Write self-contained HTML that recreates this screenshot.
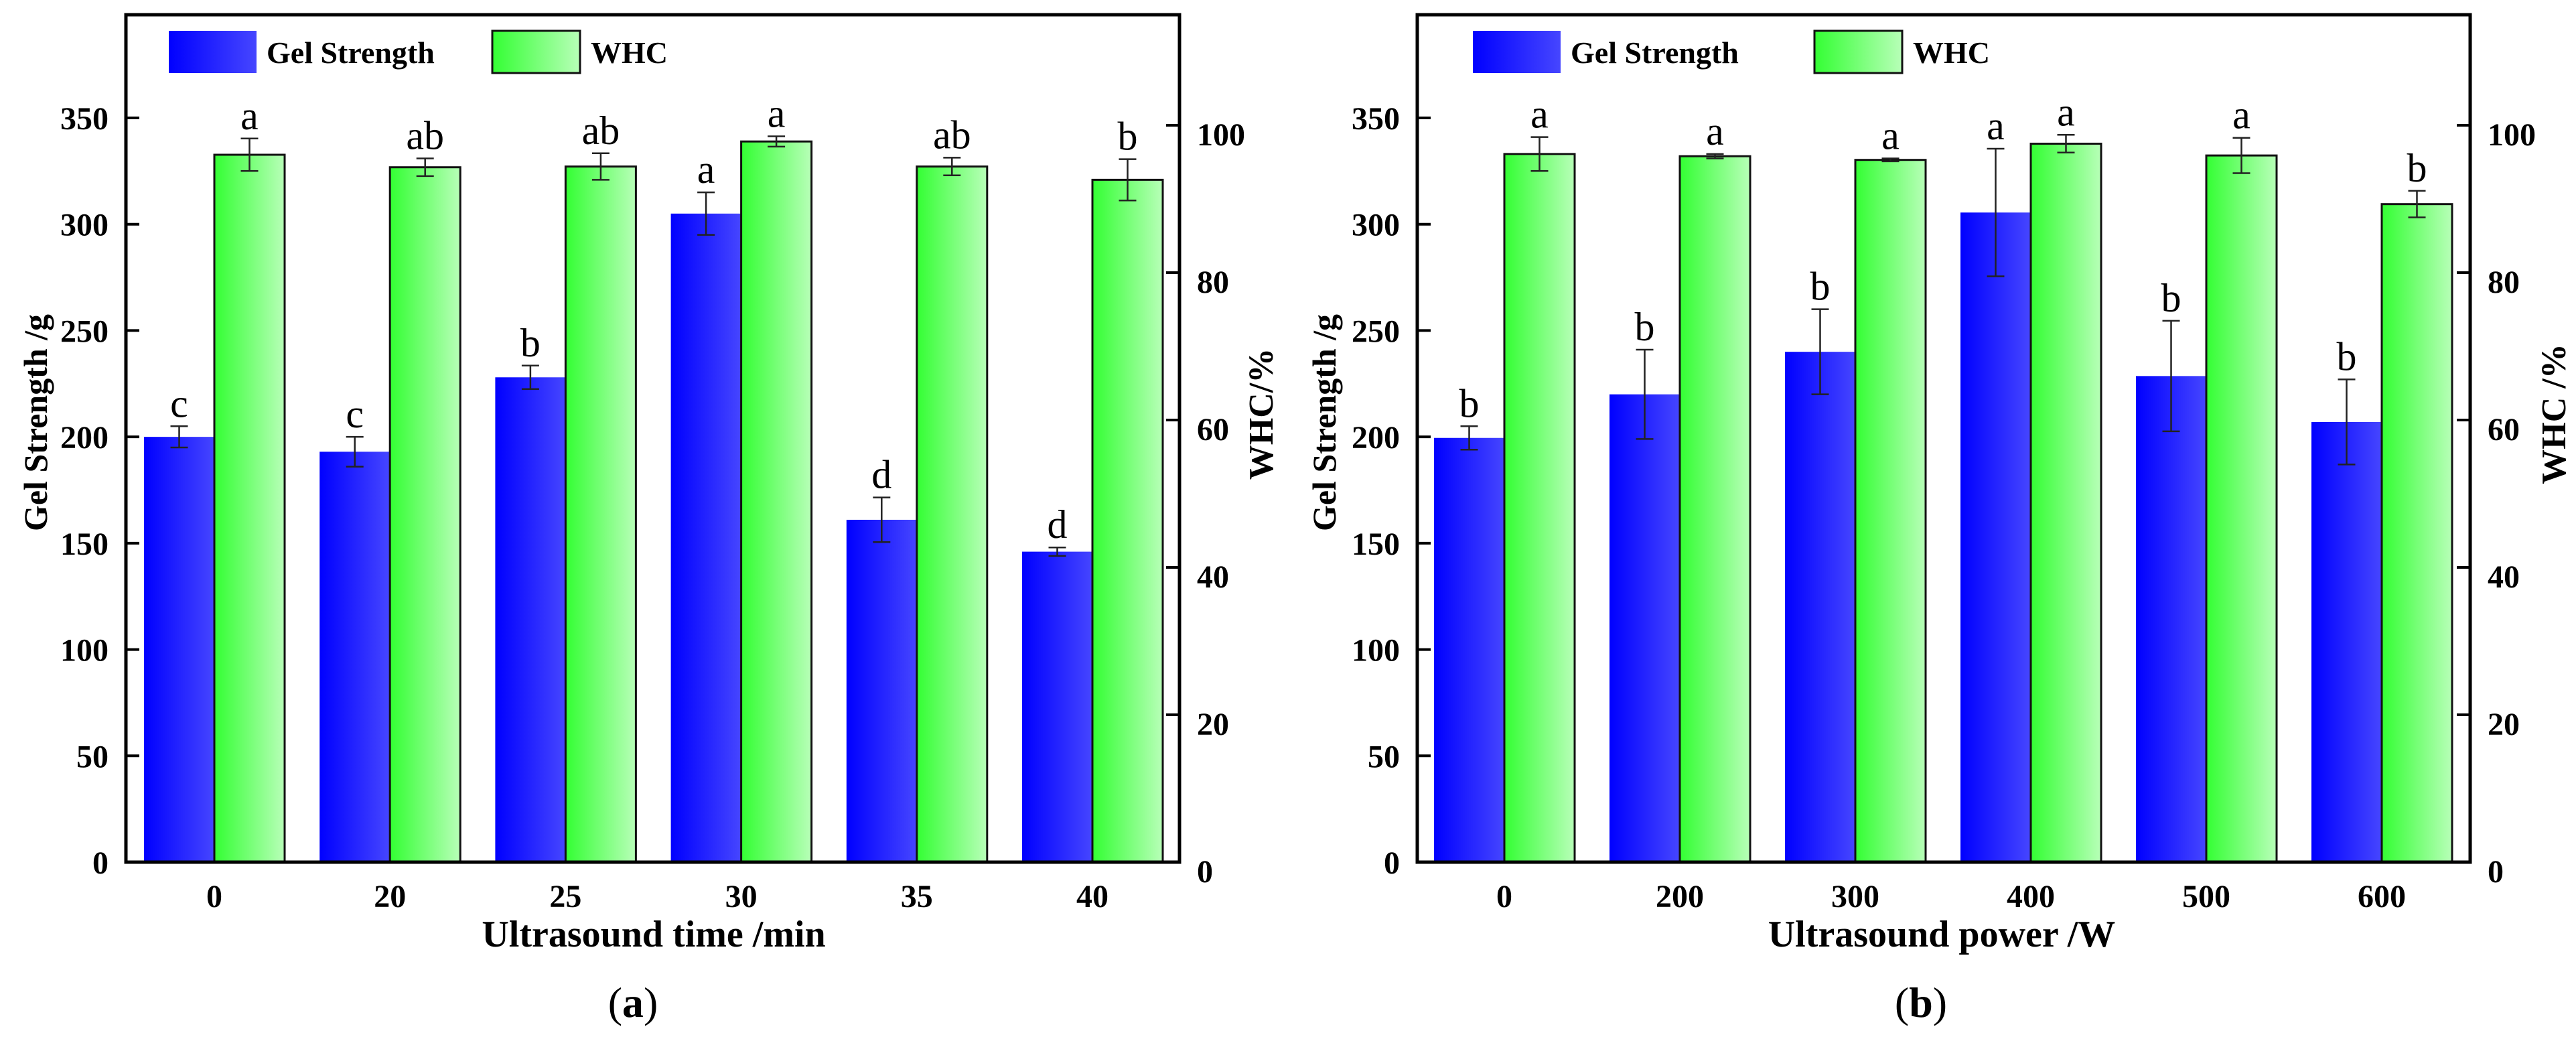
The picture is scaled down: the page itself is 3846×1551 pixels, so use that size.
<!DOCTYPE html>
<html><head><meta charset="utf-8">
<style>
html,body{margin:0;padding:0;background:#fff;}
svg{display:block;font-family:"Liberation Serif",serif;}
</style></head>
<body>
<svg id="fig" width="3846" height="1551" viewBox="0 0 3846 1551" xmlns="http://www.w3.org/2000/svg">
<defs>
<linearGradient id="gBlue" x1="0" x2="1" y1="0" y2="0"><stop offset="0" stop-color="#0000ff"/><stop offset="1" stop-color="#4646ff"/></linearGradient>
<linearGradient id="gGreen" x1="0" x2="1" y1="0" y2="0"><stop offset="0" stop-color="#33ff33"/><stop offset="1" stop-color="#b8ffb8"/></linearGradient>
</defs>
</svg>
<script>
// Panel (a)
const catsA = ["0","20","25","30","35","40"];
const gelA = [200, 193, 228, 305, 161, 146];
const gelErrA = [5, 7, 5.5, 10, 10.5, 2];
const whcA = [96.0, 94.3, 94.4, 97.8, 94.4, 92.6];
const whcErrA = [2.2, 1.2, 1.8, 0.7, 1.2, 2.8];
const gelLetA = ["c","c","b","a","d","d"];
const whcLetA = ["a","ab","ab","a","ab","b"];
// Panel (b)
const catsB = ["0","200","300","400","500","600"];
const gelB = [199.5, 220, 240, 305.5, 228.6, 207];
const gelErrB = [5.5, 21, 20, 30, 26, 20];
const whcB = [96.1, 95.8, 95.3, 97.5, 95.9, 89.3];
const whcErrB = [2.3, 0.3, 0.2, 1.2, 2.4, 1.8];
const gelLetB = ["b","b","b","a","b","b"];
const whcLetB = ["a","a","a","a","a","b"];
const leftTicks = [0,50,100,150,200,250,300,350];
const rightTicks = [0,20,40,60,80,100];

const NS = "http://www.w3.org/2000/svg";
const svg = document.getElementById("fig");
function mk(tag, attrs, parent, txt){
  const e = document.createElementNS(NS, tag);
  for (const k in attrs) e.setAttribute(k, attrs[k]);
  if (txt !== undefined) e.textContent = txt;
  (parent||svg).appendChild(e);
  return e;
}

function panel(p){
  const g = mk("g", {});
  
  
  const top = 22, bot = 1287;
  const yL = v => bot - v * (bot - 176) / 350;
  const yR = v => bot - v * (bot - 187) / 100;
  const xC = i => p.x0 + i * p.step;
  const bw = 105;
  p.cats.forEach((c, i) => {
    const xc = xC(i);
    const b = mk("rect", {x: xc - bw, y: yL(p.gel[i]), width: bw, height: bot - yL(p.gel[i]), fill: "url(#gBlue)"}, g);
    
    
    const w = mk("rect", {x: xc, y: yR(p.whc[i]), width: bw, height: bot - yR(p.whc[i]), fill: "url(#gGreen)", stroke: "#111", "stroke-width": 3}, g);
    
    
    const gx = xc - bw/2, gt = yL(p.gel[i] + p.gelErr[i]), gb = yL(p.gel[i] - p.gelErr[i]);
    const e1 = mk("path", {d: `M${gx},${gt}V${gb}M${gx-13},${gt}H${gx+13}M${gx-13},${gb}H${gx+13}`, stroke: "#222", "stroke-width": 2.5, fill: "none"}, g);
    
    
    const wx = xc + bw/2, wt = yR(p.whc[i] + p.whcErr[i]), wb = yR(p.whc[i] - p.whcErr[i]);
    const e2 = mk("path", {d: `M${wx},${wt}V${wb}M${wx-13},${wt}H${wx+13}M${wx-13},${wb}H${wx+13}`, stroke: "#222", "stroke-width": 2.5, fill: "none"}, g);
    
    
    const l1 = mk("text", {x: gx, y: gt - 14, "text-anchor": "middle", "font-size": 60}, g, p.gelLet[i]);
    
    
    const l2 = mk("text", {x: wx, y: wt - 14, "text-anchor": "middle", "font-size": 60}, g, p.whcLet[i]);
    
    
    const tl = mk("text", {x: xc, y: 1354, "text-anchor": "middle", "font-size": 48, "font-weight": "bold"}, g, c);
    
    
  });
  const fr = mk("rect", {x: p.left, y: top, width: p.right - p.left, height: bot - top, fill: "none", stroke: "#000", "stroke-width": 5}, g);
  
  
  leftTicks.forEach(t => {
    const y = yL(t);
    mk("line", {x1: p.left, x2: p.left + 20, y1: y, y2: y, stroke: "#000", "stroke-width": 4}, g);
    const tx = mk("text", {x: p.left - 26, y: y + 17, "text-anchor": "end", "font-size": 48, "font-weight": "bold"}, g, String(t));
    
    
  });
  rightTicks.forEach(t => {
    const y = yR(t);
    mk("line", {x1: p.right - 20, x2: p.right, y1: y, y2: y, stroke: "#000", "stroke-width": 4}, g);
    const tx = mk("text", {x: p.right + 26, y: y + 30, "text-anchor": "start", "font-size": 48, "font-weight": "bold"}, g, String(t));
    
    
  });
  const yt = mk("text", {x: 0, y: 0, transform: `translate(${p.ltx},631) rotate(-90)`, "text-anchor": "middle", "font-size": 50, "font-weight": "bold"}, g, "Gel Strength /g");
  
  
  const rt = mk("text", {x: 0, y: 0, transform: `translate(${p.rtx},618) rotate(-90)`, "text-anchor": "middle", "font-size": 52, "font-weight": "bold"}, g, p.rtitle);
  
  
  const xt = mk("text", {x: p.xtc, y: 1413, "text-anchor": "middle", "font-size": 56, "font-weight": "bold"}, g, p.xtitle);
  
  
  const pl = mk("text", {x: p.xtc - 31, y: 1518, "text-anchor": "middle", "font-size": 64}, g);
  
  
  pl.appendChild(document.createTextNode("("));
  mk("tspan", {"font-weight": "bold"}, pl, p.label);
  pl.appendChild(document.createTextNode(")"));
  const lg = mk("g", {}, g);
  
  
  mk("rect", {x: p.lg1, y: 46, width: 131, height: 63, fill: "url(#gBlue)"}, lg);
  const lt1 = mk("text", {x: p.lg1 + 146, y: 94, "font-size": 46, "font-weight": "bold"}, lg, "Gel Strength");
  
  
  mk("rect", {x: p.lg2, y: 46, width: 131, height: 63, fill: "url(#gGreen)", stroke: "#111", "stroke-width": 3}, lg);
  const lt2 = mk("text", {x: p.lg2 + 147, y: 94, "font-size": 46, "font-weight": "bold"}, lg, "WHC");
  
  
}

panel({id: "panel-a", left: 188, right: 1761, x0: 320, step: 262.2, cats: catsA, gel: gelA, gelErr: gelErrA, whc: whcA, whcErr: whcErrA, gelLet: gelLetA, whcLet: whcLetA, ltx: 70, rtx: 1900, rtitle: "WHC/%", xtitle: "Ultrasound time /min", xtc: 976, label: "a", lg1: 252, lg2: 735});
panel({id: "panel-b", left: 2116, right: 3688, x0: 2246, step: 262, cats: catsB, gel: gelB, gelErr: gelErrB, whc: whcB, whcErr: whcErrB, gelLet: gelLetB, whcLet: whcLetB, ltx: 1994, rtx: 3830, rtitle: "WHC /%", xtitle: "Ultrasound power /W", xtc: 2899, label: "b", lg1: 2199, lg2: 2709});
</script>
</body></html>
